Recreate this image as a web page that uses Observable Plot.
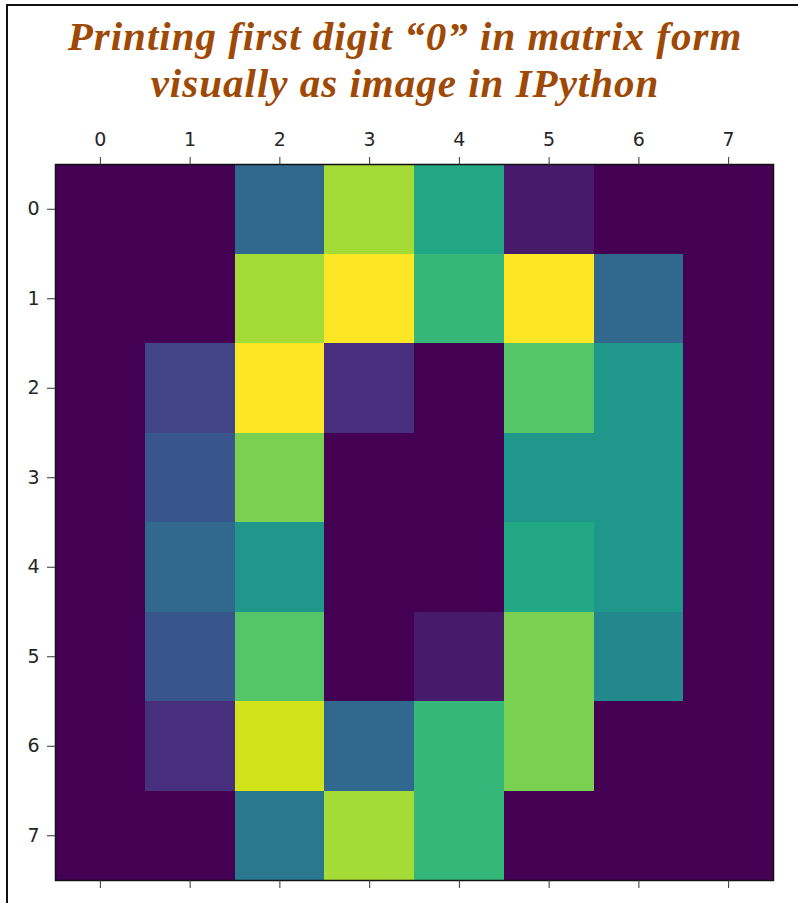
<!DOCTYPE html>
<html>
<head>
<meta charset="utf-8">
<script src="https://cdn.jsdelivr.net/npm/d3@7"></script>
<script src="https://cdn.jsdelivr.net/npm/@observablehq/plot@0.6"></script>
<style>
  html, body { margin: 0; padding: 0; background: #fff; }
  #page { position: relative; width: 798px; height: 903px; overflow: hidden; }
  #border { position: absolute; left: 6px; top: 4px; right: -4px; bottom: -4px;
            border-top: 2px solid #111; border-left: 2px solid #111; }
  #title { position: absolute; left: 6px; top: 13px; width: 798px; text-align: center;
           font-family: "Liberation Serif", "DejaVu Serif", serif; font-style: italic; font-weight: bold;
           font-size: 41px; line-height: 47px; color: #9e4a06; letter-spacing: 1px; z-index: 2; }
  #chart { position: absolute; left: 0; top: 100px; }
</style>
</head>
<body>
<div id="page">
  <div id="border"></div>
  <div id="chart"></div>
  <div id="title">Printing first digit “0” in matrix form<br>visually as image in IPython</div>
</div>
<script>
// First sklearn digit (a "0"), 8x8 grey levels 0..16
const rowLabels = [0, 1, 2, 3, 4, 5, 6, 7];
const colLabels = [0, 1, 2, 3, 4, 5, 6, 7];
const row0 = [0, 0, 5, 13, 9, 1, 0, 0];
const row1 = [0, 0, 13, 15, 10, 15, 5, 0];
const row2 = [0, 3, 15, 2, 0, 11, 8, 0];
const row3 = [0, 4, 12, 0, 0, 8, 8, 0];
const row4 = [0, 5, 8, 0, 0, 9, 8, 0];
const row5 = [0, 4, 11, 0, 1, 12, 7, 0];
const row6 = [0, 2, 14, 5, 10, 12, 0, 0];
const row7 = [0, 0, 6, 13, 10, 0, 0, 0];
const matrix = [row0, row1, row2, row3, row4, row5, row6, row7];

const cells = [];
matrix.forEach((row, r) => row.forEach((v, c) => cells.push({row: rowLabels[r], col: colLabels[c], value: v})));

const chart = Plot.plot({
  width: 798,
  height: 803,
  marginTop: 64,
  marginBottom: 23,
  marginLeft: 55,
  marginRight: 25,
  style: {fontFamily: "DejaVu Sans, sans-serif", fontSize: "19px", color: "#262626", background: "transparent"},
  x: {type: "band", domain: colLabels, padding: 0, round: false, axis: null, label: null},
  y: {type: "band", domain: rowLabels, padding: 0, round: false, axis: null, label: null},
  color: {type: "linear", scheme: "viridis", domain: [0, 15]},
  marks: [
    Plot.cell(cells, {x: "col", y: "row", fill: "value", inset: 0, shapeRendering: "crispEdges"}),
    Plot.frame({stroke: "#111", strokeWidth: 1.5}),
    Plot.axisX({anchor: "top", label: null, tickSize: 8, tickPadding: 11, fontSize: 19, stroke: "#333"}),
    Plot.axisX({anchor: "bottom", label: null, tickSize: 8, tickFormat: () => "", stroke: "#333"}),
    Plot.axisY({anchor: "left", label: null, tickSize: 8, tickPadding: 8, fontSize: 19, stroke: "#333"})
  ]
});
document.getElementById("chart").appendChild(chart);
</script>
</body>
</html>
